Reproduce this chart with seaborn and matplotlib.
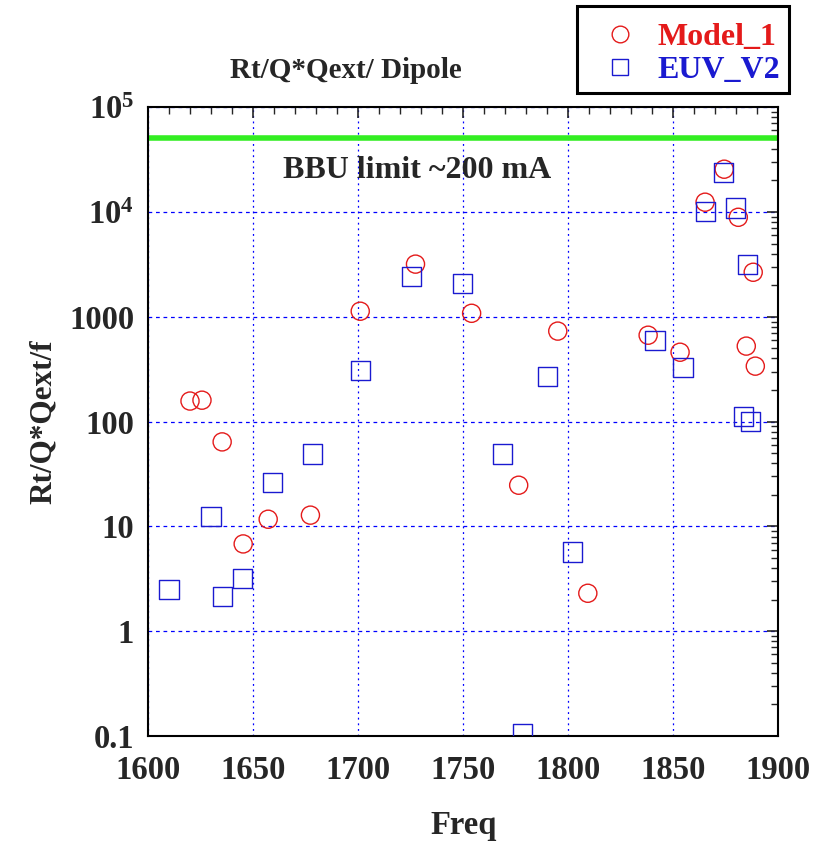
import numpy as np
import pandas as pd
import matplotlib
matplotlib.use("Agg")
import matplotlib.pyplot as plt
import matplotlib.ticker as mticker
from matplotlib.lines import Line2D
from matplotlib.patches import Rectangle
import seaborn as sns

# Data
model1_freq = [1620, 1625.7, 1635.3, 1645.3, 1657.2, 1677.3, 1701, 1727.3, 1754,
               1776.4, 1795, 1809.3, 1838, 1853.2, 1865.1, 1874.2, 1880.9,
               1884.7, 1888, 1889]
model1_val = [157, 160, 64, 6.8, 11.7, 12.8, 1130, 3180, 1080, 24.7, 730, 2.3,
              667, 459, 12400, 25600, 8900, 525, 2660, 338]

euv_freq = [1610, 1630, 1635.3, 1644.8, 1659.1, 1678.2, 1701, 1725.4, 1749.7,
            1768.8, 1778.4, 1790.3, 1802.2, 1841.3, 1854.6, 1865.1, 1873.7,
            1879.4, 1885.2, 1883.3, 1886.6]
euv_val = [2.5, 12.5, 2.16, 3.2, 26.4, 49, 310, 2440, 2090, 49, 0.106, 271, 5.7,
           598, 330, 10200, 24000, 10900, 3180, 112, 100]

bbu_limit = 51000
ytick_vals = [0.1, 1, 10, 100, 1000, 1e4, 1e5]
ytick_labels = ["0.1", "1", "10", "100", "1000", r"$\mathbf{10^{4}}$", r"$\mathbf{10^{5}}$"]

df1 = pd.DataFrame({"Freq": model1_freq, "val": model1_val})
df2 = pd.DataFrame({"Freq": euv_freq, "val": euv_val})

sns.set_style("white")
plt.rcParams["font.family"] = ["Liberation Serif", "DejaVu Serif"]
plt.rcParams["font.weight"] = "bold"
plt.rcParams["mathtext.fontset"] = "custom"
plt.rcParams["mathtext.rm"] = "Liberation Serif:bold"
plt.rcParams["mathtext.bf"] = "Liberation Serif:bold"

fig = plt.figure(figsize=(8.29, 8.44), dpi=100)
ax = fig.add_axes([0.1785, 0.128, 0.7605, 0.745])

red = "#e41a1a"
blue = "#1a1ad0"

ax.axhline(bbu_limit, color="#33ee22", lw=4, zorder=2)

sns.scatterplot(data=df1, x="Freq", y="val", ax=ax, marker="o", s=170,
                facecolor="none", edgecolor=red, linewidth=1.0, zorder=3)
sns.scatterplot(data=df2, x="Freq", y="val", ax=ax, marker="s", s=190,
                facecolor="none", edgecolor=blue, linewidth=1.0, zorder=3)

ax.set_yscale("log")
ax.set_xlim(1600, 1900)
ax.set_ylim(0.1, 1e5)
ax.set_yticks(ytick_vals)
ax.set_yticklabels(ytick_labels)
ax.yaxis.set_minor_locator(mticker.LogLocator(base=10, subs=np.arange(2, 10), numticks=20))
ax.yaxis.set_minor_formatter(mticker.NullFormatter())
ax.set_xticks(np.arange(1600, 1901, 50))
ax.xaxis.set_minor_locator(mticker.MultipleLocator(10))

ax.grid(True, which="major", axis="y", color="blue", ls=(0, (3, 3)), lw=0.9)
ax.grid(True, which="major", axis="x", color="blue", ls=(0, (1.5, 3)), lw=0.9)

ax.tick_params(which="major", direction="in", length=8, width=1.2,
               top=True, right=True, labelsize=23.5)
ax.tick_params(axis="x", which="major", pad=14)
ax.tick_params(axis="y", which="major", pad=10)
ax.tick_params(which="minor", direction="in", length=5, width=1,
               top=True, right=True)
for lab in ax.get_xticklabels() + ax.get_yticklabels():
    lab.set_fontweight("bold")
for sp in ax.spines.values():
    sp.set_color("black")
    sp.set_linewidth(1.5)

ax.set_xlabel("Freq", fontsize=23.5, fontweight="bold", labelpad=17)
ax.set_ylabel("Rt/Q*Qext/f", fontsize=22.5, fontweight="bold", labelpad=8)

ax.text(0.427, 0.9, "BBU limit ~200 mA", transform=ax.transAxes,
        ha="center", va="center", fontsize=23, fontweight="bold")
fig.text(0.417, 0.917, "Rt/Q*Qext/ Dipole", ha="center", va="center",
         fontsize=21, fontweight="bold")

# legend box sits outside the axes, top right
handles = [
    Line2D([], [], marker="o", ls="none", markersize=12, markerfacecolor="none",
           markeredgecolor=red, markeredgewidth=1.0),
    Line2D([], [], marker="s", ls="none", markersize=12, markerfacecolor="none",
           markeredgecolor=blue, markeredgewidth=1.0),
]
leg = fig.legend(handles, ["Model_1", "EUV_V2"], loc="upper left",
                 bbox_to_anchor=(0.7165, 0.9727), fontsize=23, frameon=False,
                 handletextpad=0.375, borderpad=0, labelspacing=0.11,
                 handlelength=1.6, borderaxespad=0)
for t, c in zip(leg.get_texts(), [red, blue]):
    t.set_color(c)
    t.set_fontweight("bold")
fig.patches.append(Rectangle((0.696, 0.8898), 0.2557, 0.1031,
                             transform=fig.transFigure, fill=False,
                             edgecolor="black", lw=2.2))

fig.savefig("out.png", dpi=100)
